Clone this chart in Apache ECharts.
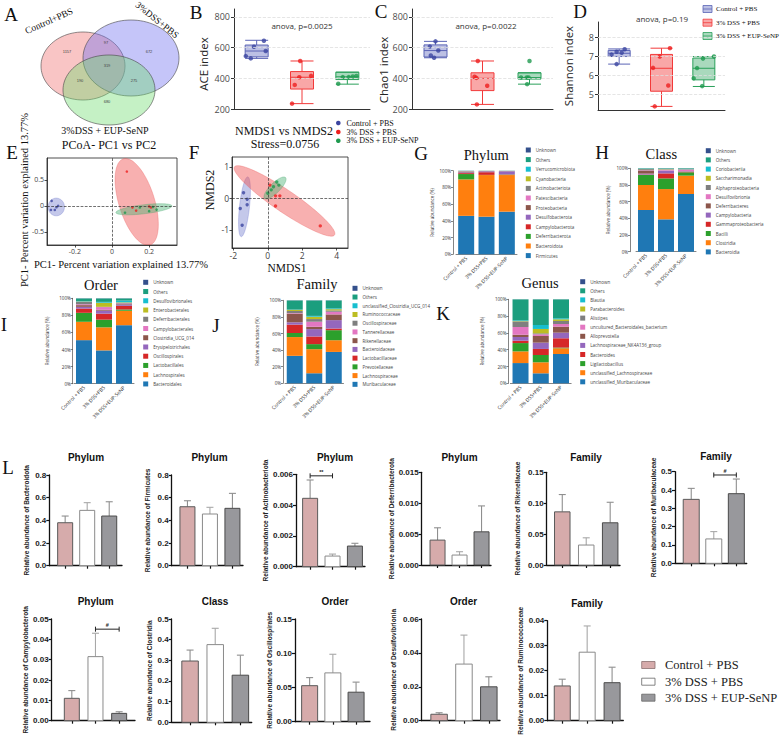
<!DOCTYPE html>
<html>
<head>
<meta charset="utf-8">
<script src="https://cdn.jsdelivr.net/npm/echarts@6/dist/echarts.min.js"></script>
<style>
html,body{margin:0;padding:0;background:#ffffff;}
#chart{width:784px;height:739px;}
</style>
</head>
<body>
<div id="chart"></div>
<script>
// ================= DATA =================
const groupNames = ['Control + PBS', '3% DSS + PBS', '3% DSS + EUP-SeNP'];
const groupTickLabels = ['Control + PBS', '3% DSS+PBS', '3% DSS+EUP-SeNP'];

// A. Venn (regions: C only, C&D, D only, all, C&E, D&E, E only)
const vennSetNames = ['Control+PBS', '3%DSS+PBS', '3%DSS + EUP-SeNP'];
const vennRegionCounts = [1157, 97, 672, 319, 190, 275, 680];

// B. ACE index
const aceBox = [[530, 540, 578, 617, 648], [235, 330, 407, 444, 513], [362, 392, 410, 440, 440]];
const acePoints = [[645, 606, 578, 545, 530], [513, 416, 407, 357, 235], [415, 412, 408, 408, 365]];
const aceJitter = [[0.16, -0.06, 0.2, -0.24, -0.13], [-0.04, 0.2, -0.06, -0.16, -0.22], [0.2, 0.12, -0.1, 0.03, -0.2]];
const aceTest = 'anova, p=0.0025';
// C. Chao1 index
const chaoBox = [[534, 539, 581, 618, 641], [230, 320, 400, 436, 513], [362, 395, 405, 436, 436]];
const chaoPoints = [[641, 607, 581, 549, 534], [513, 410, 403, 352, 230], [513, 405, 405, 405, 362]];
const chaoJitter = [[0.0, -0.12, 0.06, -0.1, -0.03], [-0.1, -0.17, -0.13, 0.1, -0.12], [0.0, -0.18, -0.06, -0.02, -0.05]];
const chaoTest = 'anova, p=0.0022';
// D. Shannon index
const shanBox = [[6.58, 6.98, 7.15, 7.3, 7.38], [4.35, 5.15, 6.36, 7.09, 7.42], [5.4, 5.75, 6.36, 6.9, 6.98]];
const shanPoints = [[7.36, 7.23, 7.18, 7.08, 6.58], [7.42, 6.98, 6.38, 5.45, 4.35], [6.98, 6.87, 6.37, 5.83, 5.42]];
const shanJitter = [[0.13, -0.06, 0.06, -0.18, -0.06], [0.2, -0.04, -0.2, 0.16, -0.16], [0.24, -0.02, -0.16, -0.24, -0.04]];
const shanTest = 'anova, p=0.19';

// E. PCoA
const pcoaCtrl = [[-0.325, 0.096], [-0.329, -0.077], [-0.308, -0.077], [-0.299, -0.026], [-0.29, 0.0]];
const pcoaDss = [[0.08, 0.66], [0.11, -0.03], [0.13, -0.09], [0.2, -0.01], [0.21, -0.03]];
const pcoaEup = [[0.07, -0.13], [0.15, -0.03], [0.2, -0.1], [0.22, -0.02], [0.24, -0.07]];
// ellipse: centre x, centre y, axis1 dx, axis1 dy, axis2 dx, axis2 dy
const pcoaEllipses = [[-0.3, -0.02, 0, 0.17, 0.044, 0], [0.133, 0.077, -0.072, 0.827, 0.0917, 0.104], [0.172, -0.064, 0.151, 0.064, -0.003, 0.086]];
const pcoaTicksX = [-0.2, 0, 0.2];
const pcoaTicksY = [-0.5, 0, 0.5];

// F. NMDS
const nmdsCtrl = [[-1.41, 0.18], [-1.2, -0.03], [-1.2, -0.2], [-1.6, -0.32], [-1.49, -0.85]];
const nmdsDss = [[0.12, 0.42], [0.45, 0.08], [0.7, 0.08], [0.45, -0.24], [3.05, -0.87]];
const nmdsEup = [[0.52, 0.52], [0.33, 0.37], [0.64, 0.42], [0.0, 0.16], [0.2, 0.27]];
const nmdsEllipses = [[-1.355, -0.265, 0.19, 0.946, 0.289, -0.017], [0.97, -0.08, -2.907, 1.079, 0.36, 0.287], [0.42, 0.33, 0.61, 0.331, 0.205, -0.11]];
const nmdsTicksX = [-2, 0, 2, 4];
const nmdsTicksY = [-1, 0, 1];
const nmdsStress = 'Stress=0.0756';

// G-K. Relative abundance (%), legend order (top to bottom)
const phylumNames = ['Unknown', 'Others', 'Verrucomicrobiota', 'Cyanobacteria', 'Actinobacteriota', 'Patescibacteria', 'Proteobacteria', 'Desulfobacterota', 'Campylobacterota', 'Deferribacterota', 'Bacteroidota', 'Firmicutes'];
const phylumCtrl = [0.1, 0.2, 0.1, 0.1, 0.4, 0.3, 0.8, 0.9, 1.1, 6.4, 43.6, 46.0];
const phylumDss = [0.1, 0.1, 0.04, 0.1, 0.06, 0.1, 0.3, 1.0, 3.2, 0.2, 49.8, 45.0];
const phylumEup = [0.1, 0.15, 0.05, 0.05, 0.15, 0.1, 0.2, 3.5, 0.4, 0.5, 43.8, 51.0];

const classNames = ['Unknown', 'Others', 'Coriobacteriia', 'Saccharimonadia', 'Alphaproteobacteria', 'Desulfovibrionia', 'Deferribacteres', 'Campylobacteria', 'Gammaproteobacteria', 'Bacilli', 'Clostridia', 'Bacteroidia'];
const classCtrl = [0.1, 0.6, 0.2, 0.1, 1.2, 0.5, 3.7, 1.1, 0.5, 12.0, 30.0, 50.0];
const classDss = [0.1, 0.7, 0.1, 0.3, 0.5, 1.0, 0.2, 3.2, 6.0, 12.8, 36.3, 38.8];
const classEup = [0.1, 0.9, 0.1, 0.1, 0.3, 2.0, 0.5, 0.4, 0.4, 4.0, 22.0, 69.2];

const orderNames = ['Unknown', 'Others', 'Desulfovibrionales', 'Enterobacterales', 'Deferribacterales', 'Campylobacterales', 'Clostridia_UCG_014', 'Erysipelotrichales', 'Oscillospirales', 'Lactobacillales', 'Lachnospirales', 'Bacteroidales'];
const orderCtrl = [0.2, 3.1, 0.4, 0.3, 3.0, 1.0, 2.0, 2.0, 5.0, 10.5, 21.5, 51.0];
const orderDss = [0.2, 4.0, 1.0, 4.8, 0.3, 3.2, 1.0, 3.5, 7.0, 9.0, 27.0, 39.0];
const orderEup = [0.2, 2.5, 2.0, 0.5, 0.5, 0.4, 1.2, 1.5, 4.3, 1.5, 16.9, 68.5];

const familyNames = ['Unknown', 'Others', 'unclassified_Clostridia_UCG_014', 'Ruminococcaceae', 'Oscillospiraceae', 'Tannerellaceae', 'Rikenellaceae', 'Bacteroidaceae', 'Lactobacillaceae', 'Prevotellaceae', 'Lachnospiraceae', 'Muribaculaceae'];
const familyCtrl = [0.2, 11.0, 0.3, 1.4, 2.5, 0.6, 10.5, 2.8, 10.1, 4.9, 22.6, 33.1];
const familyDss = [0.2, 18.6, 1.0, 2.8, 3.2, 6.1, 2.8, 8.9, 9.2, 6.1, 29.0, 12.1];
const familyEup = [0.2, 9.5, 1.0, 1.5, 1.6, 3.2, 6.9, 10.1, 2.0, 12.1, 14.1, 37.8];

const genusNames = ['Unknown', 'Others', 'Blautia', 'Parabacteroides', 'Alistipes', 'uncultured_Bacteroidales_bacterium', 'Alloprevotella', 'Lachnospiraceae_NK4A136_group', 'Bacteroides', 'Ligilactobacillus', 'unclassified_Lachnospiraceae', 'unclassified_Muribaculaceae'];
const genusCtrl = [0.1, 25.0, 0.8, 0.4, 6.7, 9.2, 2.7, 4.4, 2.8, 9.9, 13.9, 24.1];
const genusDss = [0.1, 30.5, 4.7, 5.2, 1.2, 2.0, 7.9, 7.5, 7.2, 8.7, 13.1, 11.9];
const genusEup = [0.1, 22.5, 1.2, 2.0, 3.6, 3.1, 7.2, 6.7, 11.1, 0.8, 6.8, 34.9];

// L. Mean relative abundance + SD
const lTaxa = ['Bacteroidota', 'Firmicutes', 'Actinobacteriota', 'Deferribacterota', 'Rikenellaceae', 'Muribaculaceae', 'Campylobacterota', 'Clostridia', 'Oscillospirales', 'Desulfovibrionia', 'Ruminococcaceae'];
const lLevels = ['Phylum', 'Phylum', 'Phylum', 'Phylum', 'Family', 'Family', 'Phylum', 'Class', 'Order', 'Order', 'Family'];
const lMeans = [[0.379, 0.488, 0.438], [0.52, 0.456, 0.506], [0.00444, 0.00069, 0.00134], [0.00403, 0.00161, 0.00537], [0.086, 0.0323, 0.0683], [0.349, 0.133, 0.38], [0.011, 0.0315, 0.0036], [0.2966, 0.376, 0.228], [0.0526, 0.0713, 0.0431], [0.0038, 0.0334, 0.02], [0.0139, 0.0274, 0.0152]];
const lSd = [[0.059, 0.068, 0.126], [0.053, 0.059, 0.132], [0.00119, 0.00013, 0.00018], [0.00199, 0.00054, 0.00419], [0.028, 0.0117, 0.0332], [0.06, 0.04, 0.08], [0.0038, 0.0115, 0.0008], [0.053, 0.079, 0.097], [0.0118, 0.0272, 0.0147], [0.0009, 0.0171, 0.0059], [0.0027, 0.0105, 0.0062]];
const lYMax = [0.8, 0.8, 0.006, 0.015, 0.15, 0.5, 0.05, 0.5, 0.15, 0.06, 0.04];
const lYStep = [0.2, 0.2, 0.002, 0.005, 0.05, 0.1, 0.01, 0.1, 0.05, 0.02, 0.01];
const lDecimals = [1, 1, 3, 3, 2, 1, 2, 1, 2, 2, 2];
// significance: [panel, group from, group to, bracket height, mark]
const lSignif = [[2, 0, 1, 0.0059, '**'], [5, 1, 2, 0.482, '#'], [6, 1, 2, 0.045, '#']];

// ================= LAYOUT / STYLE =================
const SERIF = '"Liberation Serif", "Times New Roman", serif';
const SANS = '"Liberation Sans", Arial, sans-serif';
const OPEN = '"Open Sans", "Noto Sans", sans-serif';

const boxFill = ['rgba(95,105,190,0.42)', 'rgba(242,60,60,0.45)', 'rgba(40,160,90,0.4)'];
const boxStroke = ['#5b64b5', '#f23a3a', '#2aa05a'];
const ptColor = ['#3b45a0', '#ee1f1f', '#1f9a4f'];
const ellFill = ['rgba(100,110,200,0.38)', 'rgba(240,80,80,0.45)', 'rgba(80,180,120,0.45)'];
const ellStroke = ['rgba(100,110,200,0.6)', 'rgba(230,80,80,0.6)', 'rgba(60,160,100,0.6)'];
const taxaPalette = ['#34508c', '#1b9e7e', '#17becf', '#bcbd22', '#7f7f7f', '#e377c2', '#8c564b', '#9467bd', '#d62728', '#2ca02c', '#ff7f0e', '#1f77b4'];
const lBarStyle = [
  {fill: '#d6abab', stroke: '#5a5a5a', err: '#8f8f8f'},
  {fill: '#ffffff', stroke: '#8a8a8a', err: '#a8a8a8'},
  {fill: '#98989c', stroke: '#4a4a4a', err: '#8f8f8f'}
];

const grids = [], xAxes = [], yAxes = [], series = [], legends = [], graphics = [];
function addGrid(g) { grids.push(Object.assign({containLabel: false}, g)); return grids.length - 1; }
function addX(a) { xAxes.push(a); return xAxes.length - 1; }
function addY(a) { yAxes.push(a); return yAxes.length - 1; }
function T(text, x, y, size, o) {
  o = o || {};
  graphics.push({type: 'text', x: x, y: y, rotation: o.rot || 0, silent: true, z: 50,
    style: {text: text, fontSize: size, fontFamily: o.family || SERIF, fontWeight: o.weight || 'normal',
      fill: o.color || '#111', align: o.align || 'center', verticalAlign: o.va || 'middle'}});
}

// ---------- A: Venn ----------
const vennShapes = [{cx: 83, cy: 66, rx: 42, ry: 34, fill: 'rgba(240,110,110,0.4)'}, {cx: 131, cy: 58, rx: 48, ry: 38, fill: 'rgba(110,110,240,0.4)'}, {cx: 109, cy: 90, rx: 46, ry: 35, fill: 'rgba(110,220,110,0.4)'}];
vennShapes.forEach(s => {
  const pts = [];
  for (let i = 0; i < 96; i++) { const t = i / 96 * 2 * Math.PI; pts.push([s.cx + s.rx * Math.cos(t), s.cy + s.ry * Math.sin(t)]); }
  graphics.push({type: 'polygon', silent: true, shape: {points: pts}, style: {fill: s.fill, stroke: '#444', lineWidth: 0.6}});
});
const vennNumPos = [[67, 51], [106, 42], [149, 51], [107, 65], [80, 80], [134, 80], [107, 101]];
vennRegionCounts.forEach((c, i) => T(String(c), vennNumPos[i][0], vennNumPos[i][1], 4, {family: SANS, color: '#444'}));
T(vennSetNames[0], 49, 21, 9.5, {rot: 0.42});
T(vennSetNames[1], 157, 20, 9.5, {rot: -0.675});
T(vennSetNames[2], 105, 130, 10);

// ---------- B-D: boxplots ----------
const boxLayout = [
  {left: 234, top: 9, width: 136, height: 100, min: 200, max: 852, ticks: [200, 400, 600, 800], boxW: 23},
  {left: 412, top: 9, width: 141, height: 100, min: 200, max: 852, ticks: [200, 400, 600, 800], boxW: 23},
  {left: 598, top: 22, width: 127, height: 88, min: 4.16, max: 8.8, ticks: [5, 6, 7, 8], boxW: 22}
];
function boxPanel(L, box, pts, jit) {
  const gi = addGrid({left: L.left, top: L.top, width: L.width, height: L.height});
  const xi = addX({type: 'category', gridIndex: gi, data: groupNames, boundaryGap: true,
    axisLine: {onZero: false, lineStyle: {color: '#333', width: 1}},
    axisTick: {alignWithLabel: true, length: 3, lineStyle: {color: '#333'}}, axisLabel: {show: false}});
  const xi2 = addX({type: 'value', gridIndex: gi, min: -0.5, max: 2.5, show: false, axisLine: {onZero: false}});
  const yi = addY({type: 'value', gridIndex: gi, min: L.min, max: L.max,
    axisLine: {show: true, onZero: false, lineStyle: {color: '#333', width: 1}},
    axisTick: {show: true, length: 3, customValues: L.ticks, lineStyle: {color: '#333'}},
    axisLabel: {customValues: L.ticks, fontSize: 9, color: '#4d4d4d', fontFamily: OPEN, margin: 4},
    splitLine: {show: false}});
  series.push({type: 'boxplot', xAxisIndex: xi, yAxisIndex: yi, boxWidth: [L.boxW, L.boxW], z: 2,
    emphasis: {disabled: true},
    data: box.map((b, g) => ({value: b, itemStyle: {color: boxFill[g], borderColor: boxStroke[g], borderWidth: 1}})),
    markLine: {silent: true, symbol: 'none', label: {show: false}, animation: false,
      lineStyle: {type: 'dashed', color: '#dedede', width: 0.8},
      data: L.ticks.filter(t => t > L.min).map(t => ({yAxis: t}))}});
  pts.forEach((arr, g) => series.push({type: 'scatter', xAxisIndex: xi2, yAxisIndex: yi, symbolSize: 4.5, z: 3,
    itemStyle: {color: ptColor[g]}, emphasis: {disabled: true}, data: arr.map((v, j) => [g + jit[g][j], v])}));
}
boxPanel(boxLayout[0], aceBox, acePoints, aceJitter);
boxPanel(boxLayout[1], chaoBox, chaoPoints, chaoJitter);
boxPanel(boxLayout[2], shanBox, shanPoints, shanJitter);
T(aceTest, 302, 25, 8, {family: OPEN, color: '#333'});
T(chaoTest, 486, 25, 8, {family: OPEN, color: '#333'});
T(shanTest, 662, 18, 8, {family: OPEN, color: '#333'});
T('ACE index', 203, 64, 11.5, {family: OPEN, rot: Math.PI / 2, color: '#222'});
T('Chao1 index', 383, 70, 11.5, {family: OPEN, rot: Math.PI / 2, color: '#222'});
T('Shannon index', 568, 66, 11.5, {family: OPEN, rot: Math.PI / 2, color: '#222'});
// legend for B-D
[9, 22.7, 36].forEach((y, g) => {
  graphics.push({type: 'rect', silent: true, shape: {x: 703, y: y - 3.5, width: 9, height: 7}, style: {fill: boxFill[g], stroke: boxStroke[g], lineWidth: 0.8}});
  graphics.push({type: 'line', silent: true, shape: {x1: 703, y1: y, x2: 712, y2: y}, style: {stroke: boxStroke[g], lineWidth: 0.8}});
  T(groupNames[g], 716, y, 7, {align: 'left'});
});

// ---------- E/F: ordination ----------
function ellipseItem(params, api) {
  const cx = api.value(0), cy = api.value(1), ax = api.value(2), ay = api.value(3), bx = api.value(4), by = api.value(5);
  const pts = [];
  for (let i = 0; i < 90; i++) {
    const t = i / 90 * 2 * Math.PI;
    pts.push(api.coord([cx + ax * Math.cos(t) + bx * Math.sin(t), cy + ay * Math.cos(t) + by * Math.sin(t)]));
  }
  const cs = params.coordSys;
  return {type: 'polygon', shape: {points: pts},
    style: {fill: ellFill[params.dataIndex], stroke: ellStroke[params.dataIndex], lineWidth: 0.5},
    clipPath: {type: 'rect', shape: {x: cs.x, y: cs.y, width: cs.width, height: cs.height}}};
}
function ordPanel(L, ells, groups, tx, ty) {
  const gi = addGrid({left: L.left, top: L.top, width: L.width, height: L.height, show: true, borderColor: '#222', borderWidth: 0.8, backgroundColor: 'transparent'});
  const xi = addX({type: 'value', gridIndex: gi, min: L.xmin, max: L.xmax,
    axisLine: {show: true, onZero: false, lineStyle: {color: '#222', width: 0.8}},
    axisTick: {show: true, customValues: tx, length: 2.5, lineStyle: {color: '#222', width: 0.8}},
    axisLabel: {customValues: tx, fontSize: L.fs, color: '#444', margin: 3, fontFamily: OPEN}, splitLine: {show: false}});
  const yi = addY({type: 'value', gridIndex: gi, min: L.ymin, max: L.ymax,
    axisLine: {show: true, onZero: false, lineStyle: {color: '#222', width: 0.8}},
    axisTick: {show: true, customValues: ty, length: 2.5, lineStyle: {color: '#222', width: 0.8}},
    axisLabel: {customValues: ty, fontSize: L.fs, color: '#444', margin: 3, fontFamily: OPEN}, splitLine: {show: false}});
  series.push({type: 'custom', xAxisIndex: xi, yAxisIndex: yi, data: ells, encode: {x: 0, y: 1}, renderItem: ellipseItem, silent: true, z: 1});
  groups.forEach((pts, g) => series.push({type: 'scatter', xAxisIndex: xi, yAxisIndex: yi, symbolSize: L.ps, z: 3,
    itemStyle: {color: ptColor[g]}, emphasis: {disabled: true}, data: pts,
    markLine: g === 0 ? {silent: true, symbol: 'none', label: {show: false}, animation: false,
      lineStyle: {type: 'dashed', color: '#333', width: 0.7}, data: [{xAxis: 0}, {yAxis: 0}]} : undefined}));
}
ordPanel({left: 47, top: 158, width: 130, height: 87, xmin: -0.35, xmax: 0.35, ymin: -0.75, ymax: 0.92, fs: 7, ps: 2.6},
  pcoaEllipses, [pcoaCtrl, pcoaDss, pcoaEup], pcoaTicksX, pcoaTicksY);
ordPanel({left: 232, top: 157, width: 116, height: 91, xmin: -2.08, xmax: 4.66, ymin: -1.57, ymax: 1.31, fs: 8.5, ps: 3.4},
  nmdsEllipses, [nmdsCtrl, nmdsDss, nmdsEup], nmdsTicksX, nmdsTicksY);
T('PCoA- PC1 vs PC2', 109, 145, 12);
T('PC1- Percent variation explained 13.77%', 121, 264, 10.5);
T('PC1- Percent variation explained 13.77%', 24, 200, 10.5, {rot: Math.PI / 2});
T('NMDS1 vs NMDS2', 284, 131, 12);
T(nmdsStress, 285, 144, 12);
T('NMDS1', 287, 268, 11.5);
T('NMDS2', 210, 190, 12, {rot: Math.PI / 2});
[123, 132, 140.7].forEach((y, g) => {
  graphics.push({type: 'circle', silent: true, shape: {cx: 338.3, cy: y, r: 2.3}, style: {fill: ptColor[g]}});
  T(groupNames[g], 346.5, y, 8, {align: 'left'});
});

// ---------- G-K: stacked bars ----------
const stackLayout = {
  G: {left: 456, top: 170.7, width: 61, height: 83.6, offset: 3, nameGap: 18.7, legLeft: 525.8, legTop: 147.5, legGap: 4.6, title: [486.3, 155]},
  H: {left: 636, top: 168.3, width: 60, height: 83.4, offset: 6, nameGap: 19.5, legLeft: 705.8, legTop: 148.2, legGap: 4.2, title: [661.3, 154]},
  I: {left: 74, top: 298.3, width: 60, height: 85.4, offset: 1.3, nameGap: 23.7, legLeft: 143.2, legTop: 279.8, legGap: 4.24, title: [101, 285]},
  J: {left: 285, top: 300.3, width: 58.5, height: 83, offset: 2, nameGap: 24, legLeft: 352.5, legTop: 285.8, legGap: 3.73, title: [317, 284]},
  K: {left: 510.4, top: 299.3, width: 60.75, height: 84, offset: 2, nameGap: 24.3, legLeft: 580.2, legTop: 279.2, legGap: 4.1, title: [540, 283]}
};
function stackPanel(key, title, names, ctrl, dss, eup) {
  const L = stackLayout[key];
  const gi = addGrid({left: L.left, top: L.top, width: L.width, height: L.height});
  const xi = addX({type: 'category', gridIndex: gi, data: groupTickLabels,
    axisLine: {onZero: false, lineStyle: {color: '#333', width: 0.6}},
    axisTick: {alignWithLabel: true, length: 2, lineStyle: {color: '#333', width: 0.6}},
    axisLabel: {rotate: 45, fontSize: 5, interval: 0, margin: 3, color: '#333', fontFamily: OPEN}});
  const yi = addY({type: 'value', gridIndex: gi, min: 0, max: 100, interval: 20, offset: L.offset,
    axisLine: {show: true, onZero: false, lineStyle: {color: '#333', width: 0.6}},
    axisTick: {show: true, length: 2, lineStyle: {color: '#333', width: 0.6}},
    axisLabel: {formatter: '{value}%', fontSize: 4.5, color: '#333', margin: 2, fontFamily: OPEN},
    splitLine: {show: false},
    name: 'Relative abundance (%)', nameLocation: 'middle', nameGap: L.nameGap,
    nameTextStyle: {fontSize: 4.5, color: '#333', fontFamily: OPEN}});
  for (let k = names.length - 1; k >= 0; k--) {
    series.push({type: 'bar', name: names[k], stack: 'stack' + key, xAxisIndex: xi, yAxisIndex: yi,
      barWidth: 16, data: [ctrl[k], dss[k], eup[k]], itemStyle: {color: taxaPalette[k]}, emphasis: {disabled: true}});
  }
  legends.push({orient: 'vertical', left: L.legLeft, top: L.legTop, itemWidth: 5, itemHeight: 5, itemGap: L.legGap,
    icon: 'rect', selectedMode: false, padding: 0, data: names,
    textStyle: {fontSize: 4.5, lineHeight: 5, color: '#444', fontFamily: OPEN}});
  T(title, L.title[0], L.title[1], 14.5);
}
stackPanel('G', 'Phylum', phylumNames, phylumCtrl, phylumDss, phylumEup);
stackPanel('H', 'Class', classNames, classCtrl, classDss, classEup);
stackPanel('I', 'Order', orderNames, orderCtrl, orderDss, orderEup);
stackPanel('J', 'Family', familyNames, familyCtrl, familyDss, familyEup);
stackPanel('K', 'Genus', genusNames, genusCtrl, genusDss, genusEup);

// ---------- L: bar charts with SD ----------
// [left, top, width, height, xmin, xmax, nameGap, barWidth]
const lGridLayout = [
  [49.3, 475, 72.7, 90.7, -0.72, 2.58, 19.3, 15],
  [171.7, 475, 71.3, 90.7, -0.70, 2.47, 20.5, 15],
  [296, 474.3, 69, 92.4, -0.63, 2.45, 26, 15],
  [421.7, 472.3, 69.3, 92.7, -0.72, 2.43, 26.7, 15],
  [546.7, 472.3, 73.3, 92.7, -0.65, 2.41, 25.7, 15.5],
  [675, 471.7, 71.7, 91.6, -0.72, 2.46, 16.7, 16],
  [51.7, 619, 83.3, 101.7, -0.85, 2.67, 17.7, 15],
  [171.7, 619, 80, 103.3, -0.73, 2.45, 19.1, 16.5],
  [295, 619, 75, 102.7, -0.63, 2.6, 21, 16],
  [421.7, 619, 78.3, 101.7, -0.70, 2.45, 24.4, 16.5],
  [547.3, 620.7, 76, 100, -0.60, 2.45, 23.3, 16]
];
const lTitlePos = [[86, 457.7], [209.5, 457.7], [335, 457.7], [459.5, 457], [586, 457], [716, 456], [95.7, 601.7], [215, 601.7], [335, 601.7], [463.5, 601.7], [587, 603.3]];
function lPanel(i) {
  const G = lGridLayout[i];
  const gi = addGrid({left: G[0], top: G[1], width: G[2], height: G[3]});
  const xi = addX({type: 'value', gridIndex: gi, min: G[4], max: G[5],
    axisLine: {show: true, onZero: false, lineStyle: {color: '#111', width: 1.3}},
    axisTick: {show: true, customValues: [0, 1, 2], length: 3, lineStyle: {color: '#111', width: 1.2}},
    axisLabel: {show: false}, splitLine: {show: false}});
  const dec = lDecimals[i];
  const yi = addY({type: 'value', gridIndex: gi, min: 0, max: lYMax[i], interval: lYStep[i],
    axisLine: {show: true, onZero: false, lineStyle: {color: '#111', width: 1.3}},
    axisTick: {show: true, length: 3, lineStyle: {color: '#111', width: 1.2}},
    axisLabel: {formatter: v => v.toFixed(dec), fontSize: 8, fontWeight: 'bold', color: '#222', margin: 3, fontFamily: SANS},
    splitLine: {show: false},
    name: 'Relative abundance of ' + lTaxa[i], nameLocation: 'middle', nameGap: G[6],
    nameTextStyle: {fontSize: 6.5, fontWeight: 'bold', color: '#222', fontFamily: SANS}});
  const bw = G[7];
  series.push({type: 'custom', xAxisIndex: xi, yAxisIndex: yi, encode: {x: 0, y: 1}, silent: true, z: 2,
    data: lMeans[i].map((m, k) => [k, m, lSd[i][k]]),
    renderItem: function (params, api) {
      const k = api.value(0), m = api.value(1), e = api.value(2);
      const p0 = api.coord([k, 0]), p1 = api.coord([k, m]), pe = api.coord([k, m + e]);
      const st = lBarStyle[params.dataIndex];
      return {type: 'group', children: [
        {type: 'line', shape: {x1: p1[0], y1: p1[1], x2: pe[0], y2: pe[1]}, style: {stroke: st.err, lineWidth: 1.1}},
        {type: 'line', shape: {x1: pe[0] - 3.5, y1: pe[1], x2: pe[0] + 3.5, y2: pe[1]}, style: {stroke: st.err, lineWidth: 1.1}},
        {type: 'rect', shape: {x: p1[0] - bw / 2, y: p1[1], width: bw, height: p0[1] - p1[1]}, style: {fill: st.fill, stroke: st.stroke, lineWidth: 1}}
      ]};
    }});
  lSignif.filter(s => s[0] === i).forEach(s => {
    series.push({type: 'custom', xAxisIndex: xi, yAxisIndex: yi, encode: {x: 0, y: 2}, silent: true, z: 3,
      data: [[s[1], s[2], s[3]]],
      renderItem: function (params, api) {
        const a = api.coord([api.value(0), api.value(2)]), b = api.coord([api.value(1), api.value(2)]);
        return {type: 'group', children: [
          {type: 'line', shape: {x1: a[0], y1: a[1], x2: b[0], y2: b[1]}, style: {stroke: '#222', lineWidth: 1}},
          {type: 'line', shape: {x1: a[0], y1: a[1] - 2.5, x2: a[0], y2: a[1] + 2.5}, style: {stroke: '#222', lineWidth: 1}},
          {type: 'line', shape: {x1: b[0], y1: b[1] - 2.5, x2: b[0], y2: b[1] + 2.5}, style: {stroke: '#222', lineWidth: 1}},
          {type: 'text', x: (a[0] + b[0]) / 2, y: a[1] - 1, style: {text: s[4], fontSize: 5.5, fontWeight: 'bold', fontFamily: SANS, fill: '#222', align: 'center', verticalAlign: 'bottom'}}
        ]};
      }});
  });
  T(lLevels[i], lTitlePos[i][0], lTitlePos[i][1], 10, {family: SANS, weight: 'bold', color: '#111'});
}
for (let i = 0; i < lTaxa.length; i++) lPanel(i);
// legend for L
[665, 681.7, 697.7].forEach((y, g) => {
  graphics.push({type: 'rect', silent: true, shape: {x: 641.7, y: y - 3.5, width: 13.3, height: 7}, style: {fill: lBarStyle[g].fill, stroke: g === 0 ? '#8a7070' : '#666', lineWidth: 0.8}});
  T(groupNames[g], 665, y, 12.5, {align: 'left', color: '#222'});
});

// ---------- panel letters ----------
const panelLetters = [['A', 11, 14], ['B', 196, 12], ['C', 381, 11], ['D', 580, 11], ['E', 12, 152], ['F', 194, 152], ['G', 421, 153], ['H', 602, 152], ['I', 4, 324], ['J', 216, 325], ['K', 443, 313], ['L', 8, 467]];
panelLetters.forEach(p => T(p[0], p[1], p[2], 19));

const option = {
  animation: false,
  backgroundColor: '#ffffff',
  grid: grids, xAxis: xAxes, yAxis: yAxes, series: series, legend: legends,
  graphic: {elements: graphics}
};
const chart = echarts.init(document.getElementById('chart'), null, {renderer: 'svg', width: 784, height: 739});
chart.setOption(option);
</script>
</body>
</html>
